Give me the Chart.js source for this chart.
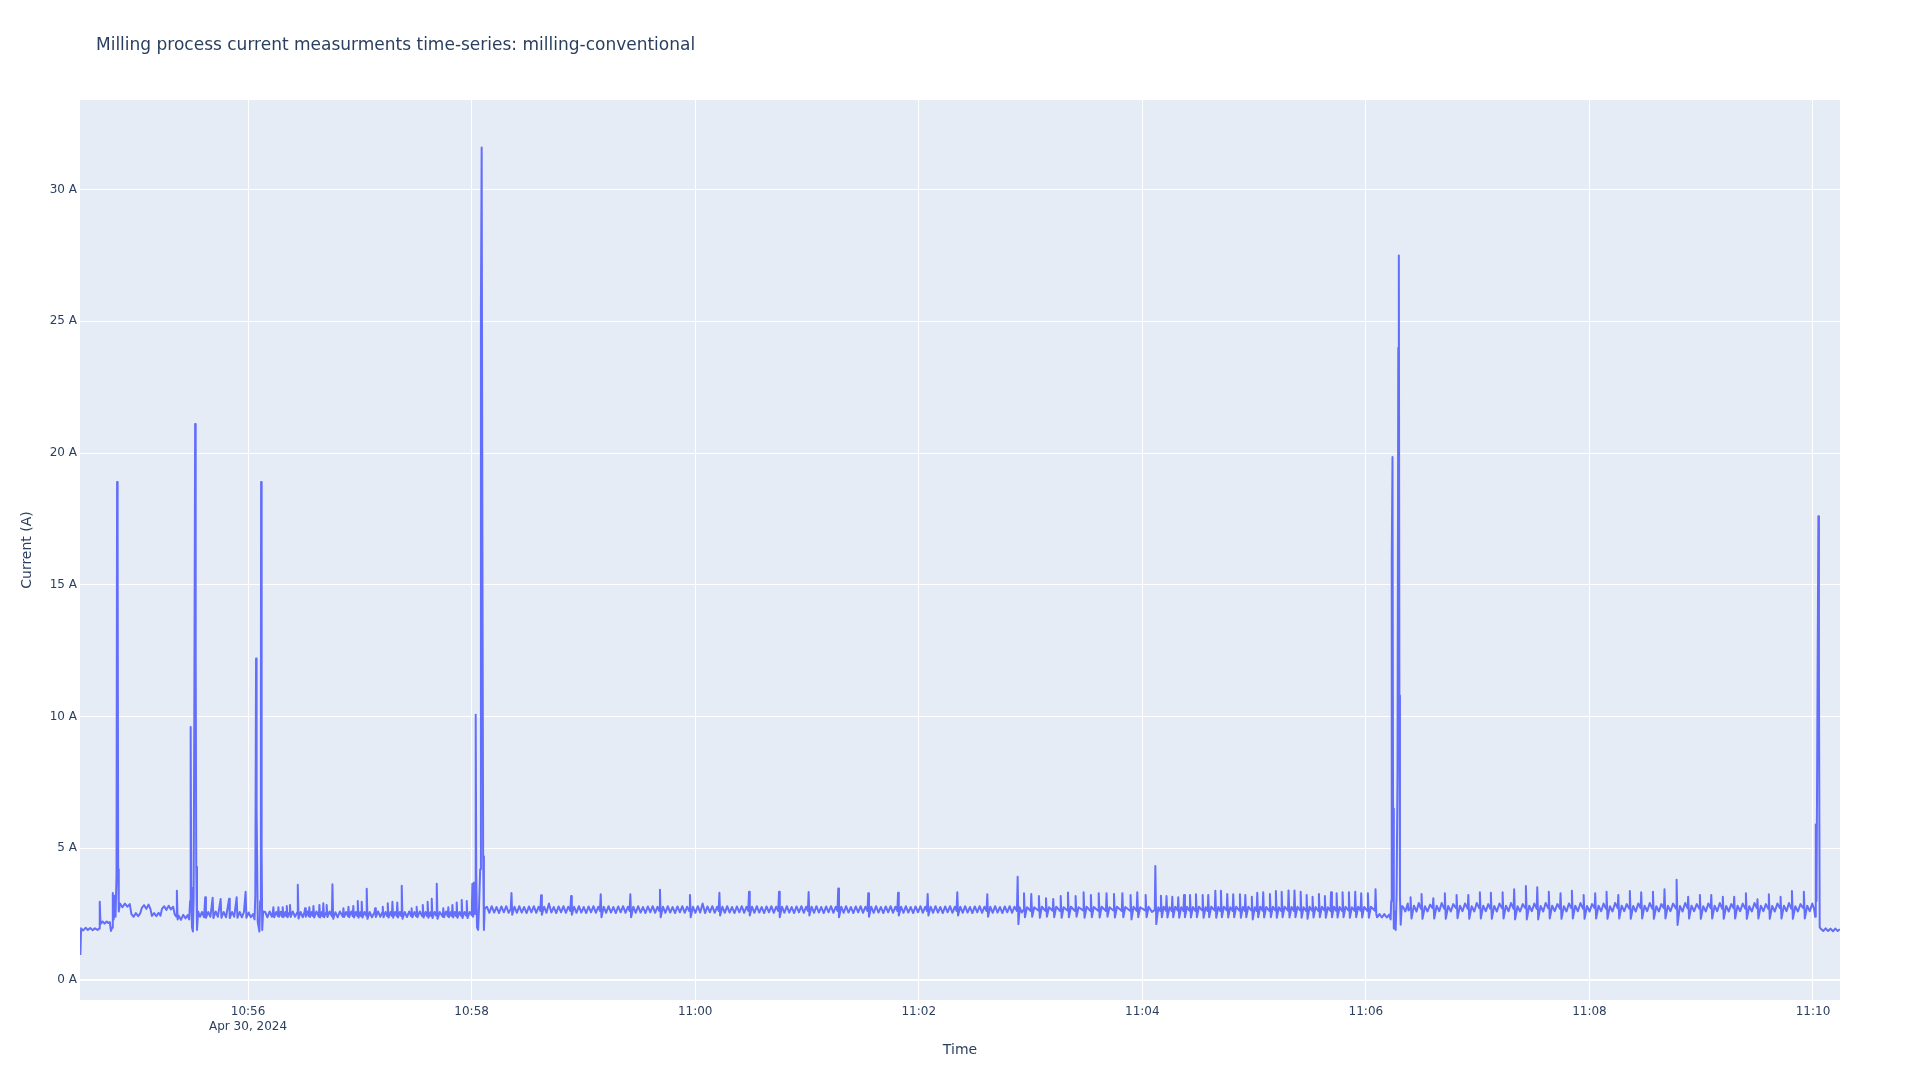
<!DOCTYPE html>
<html>
<head>
<meta charset="utf-8">
<title>Milling process current</title>
<script src="https://cdn.jsdelivr.net/npm/chart.js@4.4.1/dist/chart.umd.min.js"></script>
<style>
  html, body { margin: 0; padding: 0; background: #ffffff; }
  #wrap { width: 1920px; height: 1080px; position: relative; }
</style>
</head>
<body>
<div id="wrap"><canvas id="chart"></canvas></div>
<script>
const chartTitle = 'Milling process current measurments time-series: milling-conventional';
const dateLabel = 'Apr 30, 2024';
// sample times are seconds after 10:54:00
const startHour = 10;
const startMinute = 54;
const tickSeconds = [120, 240, 360, 480, 600, 720, 840, 960];
const currentTicks = [0, 5, 10, 15, 20, 25, 30];

// [seconds, amps]
const startup = [[30.0,0.95],[30.4,1.96],[31.5,1.88],[32.8,1.98],[34.0,1.9],[35.3,1.97],[36.6,1.89],[37.8,1.96],[39.2,1.9],[40.1,1.95],
  [40.4,2.97],[40.8,2.12],[41.9,2.22],[43.0,2.14],[44.1,2.22],[45.0,2.16],[45.8,2.2],[46.4,1.86],[47.0,1.98],[47.4,3.3],
  [47.9,2.3],[48.4,3.2],[48.9,2.4],[49.4,4.0],[49.7,18.9],[50.0,16.5],[50.3,4.2],[50.6,2.6]];

const warmup = [[51.3,2.9],[52.6,2.76],[53.9,2.9],[55.2,2.78],[56.5,2.88],[57.4,2.5],[58.6,2.4],[59.8,2.54],[61.0,2.42],[62.2,2.54],
  [63.0,2.74],[64.2,2.84],[65.4,2.7],[66.6,2.86],[67.6,2.7],[68.4,2.43],[69.6,2.54],[70.8,2.42],[72.0,2.55],[73.0,2.44],
  [73.8,2.7],[75.0,2.8],[76.2,2.66],[77.4,2.82],[78.6,2.68],[79.8,2.78],[80.6,2.5],[81.5,2.4],[81.8,3.39],[82.2,2.3],
  [82.8,2.44],[84.0,2.28],[85.2,2.47],[86.4,2.34],[87.6,2.46],[88.4,2.3]];

const plunge2 = [[88.9,3.0],[89.2,9.6],[89.5,3.5],[89.9,2.0],[90.4,1.84],[90.8,3.1],[91.2,11],[91.6,21.1],[91.9,12.5],[92.2,4.3],
  [92.6,1.9],[93.2,2.6]];

const passA = [[94.2,2.4],[95.3,2.58],[96.4,2.38],[97.0,3.14],[97.4,2.36],[98.6,2.58],[99.8,2.4],[101.0,3.12],[101.4,2.35],[102.6,2.6],
  [103.8,2.4],[105.3,3.07],[105.7,2.36],[106.9,2.58],[108.2,2.38],[109.8,3.08],[110.2,2.35],[111.4,2.58],[112.6,2.4],[113.9,3.14],
  [114.3,2.36],[115.5,2.58],[116.7,2.38],[117.8,2.58],[118.7,3.35],[119.1,2.36],[120.3,2.56],[121.5,2.38],[122.7,2.5],[123.5,2.3]];

const plunge3 = [[123.9,3.2],[124.3,12.2],[124.6,6.5],[125.2,2.2],[126.1,1.84],[126.5,3.0],[126.9,10.8],[127.0,18.9],[127.3,4.8],[127.6,1.9],
  [128.1,2.6]];

const passB = [[129.2,2.58],[130.4,2.38],[131.6,2.6],[132.8,2.4],[133.3,2.56],[133.6,2.76],[134.0,2.38],[135.1,2.58],[136.0,2.42],[136.3,2.76],
  [136.7,2.4],[137.6,2.59],[138.3,2.4],[138.6,2.76],[139.0,2.38],[140.0,2.58],[140.5,2.42],[140.8,2.81],[141.2,2.38],[142.2,2.56],
  [142.5,2.85],[142.9,2.39],[144.0,2.6],[145.2,2.4],[146.4,2.56],[146.7,3.61],[147.1,2.33],[148.2,2.58],[149.4,2.38],[150.3,2.58],
  [150.6,2.72],[151.0,2.4],[152.0,2.6],[152.6,2.42],[152.9,2.76],[153.3,2.39],[154.2,2.58],[154.8,2.43],[155.1,2.81],[155.5,2.37],
  [156.7,2.6],[158.0,2.4],[158.3,2.85],[158.7,2.37],[159.6,2.58],[160.1,2.42],[160.4,2.91],[160.8,2.38],[161.9,2.56],[162.2,2.85],
  [162.6,2.39],[163.8,2.6],[165.0,2.42],[165.3,3.63],[165.7,2.32],[166.9,2.57],[168.1,2.38],[169.3,2.6],[170.9,2.4],[171.2,2.72],
  [171.6,2.39],[172.6,2.58],[173.6,2.42],[173.9,2.78],[174.3,2.38],[175.4,2.6],[176.2,2.42],[176.5,2.81],[176.9,2.37],[177.9,2.58],
  [178.6,2.43],[178.9,3.0],[179.3,2.36],[180.2,2.57],[180.7,2.42],[181.0,2.97],[181.4,2.37],[182.5,2.58],[183.4,2.44],[183.7,3.46],
  [184.1,2.32],[185.3,2.58],[186.5,2.38],[187.9,2.57],[188.2,2.72],[188.6,2.39],[189.8,2.6],[191.0,2.4],[192.0,2.56],[192.3,2.78],
  [192.7,2.38],[193.8,2.58],[194.7,2.42],[195.0,2.91],[195.4,2.37],[196.5,2.58],[197.2,2.43],[197.5,2.97],[197.9,2.36],[198.9,2.58],
  [199.8,2.42],[200.1,2.94],[200.5,2.37],[201.5,2.58],[202.2,2.43],[202.5,3.58],[202.9,2.32],[204.1,2.58],[205.3,2.39],[206.5,2.6],
  [207.5,2.42],[207.8,2.72],[208.2,2.38],[209.3,2.58],[210.2,2.42],[210.5,2.78],[210.9,2.38],[212.2,2.6],[213.5,2.42],[213.8,2.85],
  [214.2,2.37],[215.3,2.58],[216.1,2.42],[216.4,2.97],[216.8,2.36],[217.8,2.57],[218.3,2.43],[218.6,3.08],[219.0,2.35],[220.1,2.58],
  [221.0,2.44],[221.3,3.65],[221.7,2.32],[222.9,2.58],[224.5,2.4],[224.8,2.72],[225.2,2.38],[226.3,2.6],[227.2,2.42],[227.5,2.76],
  [227.9,2.38],[228.9,2.58],[229.4,2.43],[229.7,2.85],[230.1,2.37],[231.0,2.58],[231.7,2.42],[232.0,2.94],[232.4,2.36],[233.5,2.58],
  [234.4,2.43],[234.7,3.04],[235.1,2.35],[236.2,2.58],[237.1,2.44],[237.4,3.0],[237.8,2.35],[239.0,2.58],[240.1,2.46],[240.4,3.65],
  [240.8,2.4],[241.3,3.7],[241.7,2.5]];

const plunge4 = [[241.9,3.0],[242.2,10.07],[242.5,4.0],[242.9,2.0],[243.5,1.9],[244.0,2.8],[244.6,4.2],[245.0,25.5],[245.4,31.6],[245.8,16.6],
  [246.2,4.7],[246.6,1.9],[247.0,2.7]];

const passC = [[248.2,2.78],[249.5,2.55],[250.8,2.8],[252.1,2.56],[253.4,2.77],[254.7,2.54],[256.0,2.79],[257.3,2.57],[258.6,2.8],[259.9,2.55],[261.0,2.7],[261.4,3.3],[261.8,2.48],
  [263.0,2.78],[264.3,2.55],[265.6,2.8],[266.9,2.56],[268.2,2.77],[269.5,2.54],[270.8,2.79],[272.1,2.57],[273.4,2.8],[274.7,2.55],[276.0,2.78],[276.9,2.62],[277.3,3.22],[277.7,2.48],
  [278.9,2.78],[280.2,2.55],[281.5,2.9],[282.8,2.56],[284.1,2.77],[285.4,2.54],[286.7,2.79],[288.0,2.57],[289.3,2.8],[290.6,2.55],[291.9,2.78],[293.0,2.62],[293.4,3.19],[293.8,2.48],
  [295.0,2.78],[296.3,2.55],[297.6,2.8],[298.9,2.56],[300.2,2.77],[301.5,2.54],[302.8,2.79],[304.1,2.57],[305.4,2.8],[306.7,2.55],[308.0,2.78],[308.9,2.62],[309.3,3.25],[309.7,2.38],
  [310.9,2.78],[312.2,2.55],[313.5,2.8],[314.8,2.56],[316.1,2.77],[317.4,2.54],[318.7,2.79],[320.0,2.57],[321.3,2.8],[322.6,2.55],[323.9,2.78],[324.8,2.62],[325.2,3.25],[325.6,2.38],
  [326.8,2.78],[328.1,2.55],[329.4,2.8],[330.7,2.56],[332.0,2.77],[333.3,2.54],[334.6,2.79],[335.9,2.57],[337.2,2.8],[338.5,2.55],[339.8,2.78],[340.7,2.62],[341.1,3.42],[341.5,2.38],
  [342.7,2.78],[344.0,2.55],[345.3,2.8],[346.6,2.56],[347.9,2.77],[349.2,2.54],[350.5,2.79],[351.8,2.57],[353.1,2.8],[354.4,2.55],[355.7,2.78],[356.8,2.62],[357.2,3.23],[357.6,2.38],
  [358.8,2.78],[360.1,2.55],[361.4,2.8],[362.7,2.56],[364.0,2.9],[365.3,2.54],[366.6,2.79],[367.9,2.57],[369.2,2.8],[370.5,2.55],[371.8,2.78],[372.6,2.62],[373.0,3.31],[373.4,2.45],
  [374.6,2.78],[375.9,2.55],[377.2,2.8],[378.5,2.56],[379.8,2.77],[381.1,2.54],[382.4,2.79],[383.7,2.57],[385.0,2.8],[386.3,2.55],[387.6,2.78],[388.5,2.62],[388.9,3.35],[389.3,2.45],
  [390.5,2.78],[391.8,2.55],[393.1,2.8],[394.4,2.56],[395.7,2.77],[397.0,2.54],[398.3,2.79],[399.6,2.57],[400.9,2.8],[402.2,2.55],[403.5,2.78],[404.6,2.62],[405.0,3.35],[405.4,2.38],
  [406.6,2.78],[407.9,2.55],[409.2,2.8],[410.5,2.56],[411.8,2.77],[413.1,2.54],[414.4,2.79],[415.7,2.57],[417.0,2.8],[418.3,2.55],[419.6,2.78],[420.5,2.62],[420.9,3.34],[421.3,2.45],
  [422.5,2.78],[423.8,2.55],[425.1,2.8],[426.4,2.56],[427.7,2.77],[429.0,2.54],[430.3,2.79],[431.6,2.57],[432.9,2.8],[434.2,2.55],[435.5,2.78],[436.4,2.62],[436.8,3.47],[437.2,2.38],
  [438.4,2.78],[439.7,2.55],[441.0,2.8],[442.3,2.56],[443.6,2.77],[444.9,2.54],[446.2,2.79],[447.5,2.57],[448.8,2.8],[450.1,2.55],[451.4,2.78],[452.5,2.62],[452.9,3.29],[453.3,2.4],
  [454.5,2.78],[455.8,2.55],[457.1,2.8],[458.4,2.56],[459.7,2.77],[461.0,2.54],[462.3,2.79],[463.6,2.57],[464.9,2.8],[466.2,2.55],[467.5,2.78],[468.5,2.62],[468.9,3.31],[469.3,2.45],
  [470.5,2.78],[471.8,2.55],[473.1,2.8],[474.4,2.56],[475.7,2.77],[477.0,2.54],[478.3,2.79],[479.6,2.57],[480.9,2.8],[482.2,2.55],[483.5,2.78],[484.4,2.62],[484.8,3.26],[485.2,2.45],
  [486.4,2.78],[487.7,2.55],[489.0,2.8],[490.3,2.56],[491.6,2.77],[492.9,2.54],[494.2,2.79],[495.5,2.57],[496.8,2.8],[498.1,2.55],[499.4,2.78],[500.3,2.62],[500.7,3.33],[501.1,2.45],
  [502.3,2.78],[503.6,2.55],[504.9,2.8],[506.2,2.56],[507.5,2.77],[508.8,2.54],[510.1,2.79],[511.4,2.57],[512.7,2.8],[514.0,2.55],[515.3,2.78],[516.4,2.62],[516.8,3.25],[517.2,2.4],
  [518.4,2.78],[519.7,2.55],[521.0,2.8],[522.3,2.56],[523.6,2.77],[524.9,2.54],[526.2,2.79],[527.5,2.57],[528.8,2.8],[530.1,2.55],[531.4,2.78],[532.7,2.62],[533.1,3.92],[533.5,2.12],
  [534.2,2.76],[535.3,2.56]];

const passD = [[536.2,2.66],[536.5,3.29],[537.0,2.38],[538.1,2.76],[540.1,2.62],[540.4,3.26],[540.9,2.4],[542.0,2.76],
  [544.2,2.64],[544.5,3.19],[545.0,2.36],[546.1,2.78],[548.0,2.62],[548.3,3.10],[548.8,2.4],[549.9,2.76],
  [551.9,2.63],[552.2,3.07],[552.7,2.38],[553.8,2.78],[555.9,2.62],[556.2,3.19],[556.7,2.36],[557.8,2.76],
  [559.8,2.64],[560.1,3.32],[560.6,2.38],[561.7,2.78],[563.9,2.62],[564.2,3.19],[564.7,2.4],[565.8,2.76],
  [568.2,2.64],[568.5,3.33],[569.0,2.36],[570.1,2.78],[572.1,2.62],[572.4,3.23],[572.9,2.38],[574.0,2.77],
  [576.3,2.63],[576.6,3.29],[577.1,2.37],[578.2,2.78],[580.5,2.62],[580.8,3.29],[581.3,2.4],[582.4,2.76],
  [584.5,2.64],[584.8,3.26],[585.3,2.37],[586.4,2.78],[589.0,2.62],[589.3,3.29],[589.8,2.38],[590.9,2.77],
  [593.4,2.63],[593.7,3.23],[594.2,2.3],[595.3,2.78],[597.0,2.62],[597.3,3.33],[597.8,2.38],[598.9,2.76],
  [601.5,2.64],[601.8,3.23],[602.3,2.38],[603.4,2.78],[605.2,2.58],[606.7,2.66],[607.0,4.33],[607.5,2.12],[608.6,2.76],
  [609.7,2.62],[610.0,3.20],[610.5,2.38],[611.5,2.78],[612.7,2.63],[613.0,3.19],[613.5,2.37],[614.6,2.76],
  [615.8,2.62],[616.1,3.16],[616.6,2.38],[617.7,2.78],[619.0,2.64],[619.3,3.14],[619.8,2.36],[620.9,2.76],
  [622.1,2.62],[622.4,3.23],[622.9,2.38],[624.0,2.78],[625.3,2.63],[625.6,3.23],[626.1,2.37],[627.2,2.77],
  [628.5,2.62],[628.8,3.25],[629.3,2.38],[630.4,2.78],[632.1,2.64],[632.4,3.23],[632.9,2.36],[634.0,2.76],
  [635.1,2.62],[635.4,3.23],[635.9,2.38],[637.0,2.78],[638.9,2.63],[639.2,3.39],[639.7,2.36],[640.8,2.77],
  [641.9,2.62],[642.2,3.39],[642.7,2.38],[643.8,2.78],[645.3,2.64],[645.6,3.26],[646.1,2.37],[647.2,2.76],
  [648.5,2.62],[648.8,3.25],[649.3,2.38],[650.4,2.78],[652.1,2.63],[652.4,3.25],[652.9,2.36],[654.0,2.77],
  [655.0,2.62],[655.3,3.23],[655.8,2.38],[656.9,2.78],[658.5,2.64],[658.8,3.16],[659.3,2.3],[660.4,2.76],
  [661.4,2.62],[661.7,3.31],[662.2,2.38],[663.3,2.78],[664.6,2.63],[664.9,3.33],[665.4,2.37],[666.5,2.77],
  [668.2,2.62],[668.5,3.26],[669.0,2.38],[670.1,2.78],[671.4,2.64],[671.7,3.38],[672.2,2.36],[673.3,2.76],
  [674.5,2.62],[674.8,3.35],[675.3,2.38],[676.4,2.78],[678.2,2.63],[678.5,3.40],[679.0,2.37],[680.1,2.77],
  [681.4,2.62],[681.7,3.40],[682.2,2.38],[683.3,2.78],[684.7,2.64],[685.0,3.35],[685.5,2.36],[686.6,2.76],
  [687.9,2.62],[688.2,3.23],[688.7,2.32],[689.8,2.78],[691.1,2.63],[691.4,3.16],[691.9,2.37],[693.0,2.77],
  [694.5,2.62],[694.8,3.26],[695.3,2.38],[696.4,2.78],[697.7,2.64],[698.0,3.19],[698.5,2.36],[699.6,2.76],
  [701.0,2.62],[701.3,3.33],[701.8,2.38],[702.9,2.78],[704.0,2.63],[704.3,3.29],[704.8,2.37],[705.9,2.77],
  [707.2,2.62],[707.5,3.33],[708.0,2.38],[709.1,2.78],[710.6,2.64],[710.9,3.33],[711.4,2.36],[712.5,2.76],
  [714.0,2.62],[714.3,3.35],[714.8,2.38],[715.9,2.78],[717.2,2.63],[717.5,3.29],[718.0,2.37],[719.1,2.77],
  [720.8,2.62],[721.1,3.29],[721.6,2.36],[722.7,2.78],[724.9,2.63],[725.2,3.44]];

const plunge5 = [[725.6,2.5],[726.0,2.38],[727.3,2.5],[728.6,2.37],[729.9,2.5],[731.2,2.37],[732.5,2.48],[733.3,2.3],[733.6,3.0],[733.8,9.8],
  [734.0,16],[734.3,19.85],[734.6,6.5],[735.0,1.95],[735.5,2.6],[736.0,1.9],[736.5,3.2],[737.0,8],[737.4,24],[737.7,27.5],
  [738.0,10.8],[738.3,3.2],[738.7,2.1],[739.3,2.8]];

const passE = [[739.9,2.78],[741.2,2.6],[742.5,2.9],[742.9,2.64],
  [743.7,2.72],[744.0,3.14],[744.5,2.33],[745.8,2.82],[747.2,2.6],[748.4,2.92],
  [749.6,2.7],[749.9,3.26],[750.4,2.32],[751.7,2.8],[753.1,2.6],[754.5,2.86],
  [755.9,2.72],[756.2,3.10],[756.7,2.33],[758.0,2.82],[759.4,2.61],[760.7,2.92],
  [762.1,2.7],[762.4,3.29],[762.9,2.32],[764.2,2.81],[765.6,2.6],[766.9,2.88],
  [768.4,2.72],[768.7,3.23],[769.2,2.34],[770.5,2.82],[771.9,2.61],[773.2,2.9],
  [774.7,2.7],[775.0,3.23],[775.5,2.32],[776.8,2.8],[778.2,2.6],[779.5,2.92],
  [780.9,2.72],[781.2,3.33],[781.7,2.33],[783.0,2.82],[784.4,2.61],[785.7,2.88],
  [786.8,2.7],[787.1,3.31],[787.6,2.32],[788.9,2.81],[790.3,2.6],[791.7,2.9],
  [793.1,2.72],[793.4,3.33],[793.9,2.33],[795.2,2.82],[796.6,2.61],[797.9,2.92],
  [799.3,2.7],[799.6,3.44],[800.1,2.3],[801.4,2.8],[802.8,2.6],[804.2,2.88],
  [805.6,2.72],[805.9,3.57],[806.4,2.3],[807.7,2.82],[809.1,2.61],[810.4,2.9],
  [811.7,2.7],[812.0,3.52],[812.5,2.3],[813.8,2.81],[815.2,2.6],[816.5,2.92],
  [817.9,2.72],[818.2,3.35],[818.7,2.33],[820.0,2.82],[821.4,2.61],[822.8,2.88],
  [824.2,2.7],[824.5,3.29],[825.0,2.32],[826.3,2.8],[827.7,2.6],[829.0,2.9],
  [830.3,2.72],[830.6,3.39],[831.1,2.33],[832.4,2.82],[833.8,2.61],[835.2,2.92],
  [836.6,2.7],[836.9,3.23],[837.4,2.32],[838.7,2.81],[840.1,2.6],[841.4,2.88],
  [842.8,2.72],[843.1,3.29],[843.6,2.33],[844.9,2.82],[846.3,2.61],[847.6,2.9],
  [848.9,2.7],[849.2,3.35],[849.7,2.32],[851.0,2.8],[852.4,2.6],[853.8,2.92],
  [855.2,2.72],[855.5,3.23],[856.0,2.33],[857.3,2.82],[858.7,2.61],[860.0,2.88],
  [861.4,2.7],[861.7,3.38],[862.2,2.32],[863.5,2.81],[864.9,2.6],[866.2,2.9],
  [867.5,2.72],[867.8,3.33],[868.3,2.33],[869.6,2.82],[871.0,2.61],[872.4,2.92],
  [873.8,2.7],[874.1,3.35],[874.6,2.32],[875.9,2.8],[877.3,2.6],[878.6,2.88],
  [880.0,2.72],[880.3,3.44],[880.8,2.33],[882.1,2.82],[883.5,2.61],[884.9,2.9],
  [886.5,2.7],[886.8,3.80],[887.3,2.09],[888.6,2.81],[890.0,2.6],[891.4,2.92],
  [892.7,2.72],[893.0,3.16],[893.5,2.33],[894.8,2.82],[896.2,2.61],[897.6,2.88],
  [899.0,2.7],[899.3,3.23],[899.8,2.32],[901.1,2.8],[902.5,2.6],[903.8,2.9],
  [905.1,2.72],[905.4,3.23],[905.9,2.33],[907.2,2.82],[908.6,2.61],[910.0,2.92],
  [911.3,2.7],[911.6,3.16],[912.1,2.32],[913.4,2.81],[914.8,2.6],[916.1,2.88],
  [917.4,2.72],[917.7,3.16],[918.2,2.33],[919.5,2.82],[920.9,2.61],[922.3,2.9],
  [923.7,2.7],[924.0,3.29],[924.5,2.32],[925.8,2.8],[927.2,2.6],[928.6,2.92],
  [929.9,2.72],[930.2,3.06],[930.7,2.33],[932.0,2.82],[933.4,2.61],[934.7,2.88],
  [936.0,2.7],[936.3,3.25],[936.8,2.32],[938.1,2.81],[939.5,2.6],[940.9,2.9],
  [942.3,2.72],[942.6,3.16],[943.1,2.33],[944.4,2.82],[945.8,2.61],[947.1,2.92],
  [948.4,2.7],[948.7,3.38],[949.2,2.32],[950.5,2.8],[951.9,2.6],[953.3,2.88],
  [954.8,2.72],[955.1,3.35],[955.6,2.33],[956.9,2.82],[958.3,2.61],[959.6,2.9]];

const retract = [[960.6,2.7],[961.2,2.4],[961.5,5.9],[961.9,3.0],[962.5,12],[962.9,17.6],[963.2,11.5],[963.6,2.0],[964.2,1.94],[965.5,1.86],
  [966.8,1.96],[968.1,1.86],[969.4,1.95],[970.7,1.85],[972.0,1.95],[973.3,1.86],[974.4,1.93]];

const samples = [].concat(startup, warmup, plunge2, passA, plunge3, passB, plunge4, passC, passD, plunge5, passE, retract);

const fontFamily = "'DejaVu Sans', Verdana, sans-serif";
const textColor = '#2a3f5f';

function clock(sec) {
  const total = startHour * 3600 + startMinute * 60 + sec;
  const h = Math.floor(total / 3600);
  const m = Math.floor((total % 3600) / 60);
  return h + ':' + String(m).padStart(2, '0');
}

// plotly-like light blue plot area
const plotBackground = {
  id: 'plotBackground',
  beforeDraw(chart) {
    const { ctx, chartArea } = chart;
    ctx.save();
    ctx.fillStyle = '#E5ECF6';
    ctx.fillRect(chartArea.left, chartArea.top, chartArea.right - chartArea.left, chartArea.bottom - chartArea.top);
    ctx.restore();
  }
};

const titleText = {
  id: 'titleText',
  afterDraw(chart) {
    const ctx = chart.ctx;
    ctx.save();
    ctx.font = '17px ' + fontFamily;
    ctx.fillStyle = textColor;
    ctx.textBaseline = 'middle';
    ctx.textAlign = 'left';
    ctx.fillText(chartTitle, 96, 46);
    ctx.restore();
  }
};

const ctx = document.getElementById('chart');

new Chart(ctx, {
  type: 'line',
  data: {
    datasets: [{
      label: 'Current',
      data: samples.map(p => ({ x: p[0], y: p[1] })),
      borderColor: '#636efa',
      borderWidth: 2,
      borderJoinStyle: 'round',
      pointRadius: 0,
      tension: 0,
      fill: false
    }]
  },
  options: {
    responsive: true,
    maintainAspectRatio: false,
    animation: false,
    layout: {
      padding: { top: 100, right: 80, bottom: 0, left: 0 }
    },
    plugins: {
      legend: { display: false },
      tooltip: { enabled: false }
    },
    scales: {
      x: {
        type: 'linear',
        min: 29.8,
        max: 974.5,
        afterBuildTicks: scale => { scale.ticks = tickSeconds.map(v => ({ value: v })); },
        afterFit: scale => { scale.height = 80; },
        ticks: {
          autoSkip: false,
          maxRotation: 0,
          padding: 5,
          color: textColor,
          font: { family: fontFamily, size: 12 },
          callback: (value, index) => index === 0 ? [clock(value), dateLabel] : clock(value)
        },
        grid: { color: '#ffffff', lineWidth: 1, drawTicks: false },
        border: { display: false },
        title: {
          display: true,
          text: 'Time',
          color: textColor,
          font: { family: fontFamily, size: 14 },
          padding: { top: 0, bottom: 21 }
        }
      },
      y: {
        min: -0.76,
        max: 33.4,
        afterBuildTicks: scale => { scale.ticks = currentTicks.map(v => ({ value: v })); },
        afterFit: scale => { scale.width = 80; },
        ticks: {
          padding: 3,
          color: textColor,
          font: { family: fontFamily, size: 12 },
          callback: value => value + ' A'
        },
        grid: {
          color: '#ffffff',
          lineWidth: c => (c.tick && c.tick.value === 0 ? 2 : 1),
          drawTicks: false
        },
        border: { display: false },
        title: {
          display: true,
          text: 'Current (A)',
          color: textColor,
          font: { family: fontFamily, size: 14 },
          padding: { top: 19, bottom: 0 }
        }
      }
    }
  },
  plugins: [plotBackground, titleText]
});
</script>
</body>
</html>
